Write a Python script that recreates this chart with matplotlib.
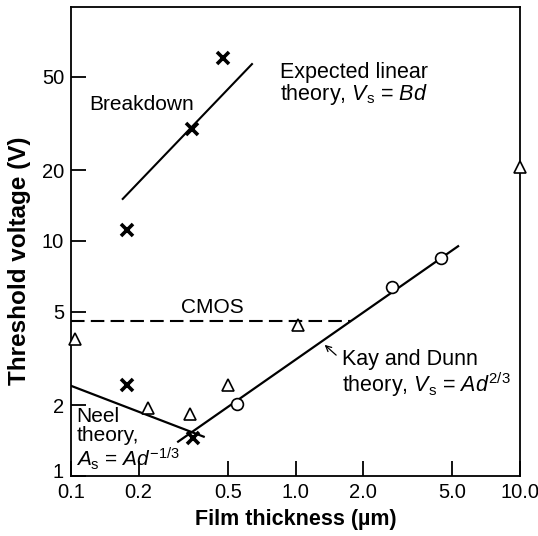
import matplotlib
matplotlib.use('Agg')
import matplotlib.pyplot as plt
import matplotlib.transforms as mtrans

plt.rcParams['font.family'] = ['Liberation Sans', 'DejaVu Sans']
plt.rcParams['mathtext.fontset'] = 'custom'
plt.rcParams['mathtext.rm'] = 'Liberation Sans'
plt.rcParams['mathtext.it'] = 'Liberation Sans:italic'

# datos
cruz_x = [0.177, 0.345, 0.474, 0.177, 0.35]
cruz_y = [11.1, 30.0, 60.0, 2.44, 1.45]

tri_x = [0.104, 0.22, 0.338, 0.499, 1.03, 10.0]
tri_y = [3.83, 1.95, 1.84, 2.44, 4.39, 20.6]

circ_x = [0.547, 2.70, 4.45]
circ_y = [2.02, 6.37, 8.47]

# lineas teoricas (extremos)
breakdown_x = [0.17, 0.64]
breakdown_y = [15.1, 56.6]
neel_x = [0.1, 0.39]
neel_y = [2.42, 1.47]
kay_x = [0.30, 5.3]
kay_y = [1.40, 9.5]
cmos_x = [0.1, 1.77]
cmos_y = [4.57, 4.57]

xticks = [0.1, 0.2, 0.5, 1.0, 2.0, 5.0, 10.0]
xlabels = ['0.1', '0.2', '0.5', '1.0', '2.0', '5.0', '10.0']
yticks = [1, 2, 5, 10, 20, 50]
ylabels = ['1', '2', '5', '10', '20', '50']

fig = plt.figure(figsize=(5.38, 5.36), dpi=100)
ax = fig.add_axes([71/538, 60/536, 449/538, 469/536])
ax.set_xscale('log')
ax.set_yscale('log')
ax.set_xlim(0.1, 10)
ax.set_ylim(1, 99)

ax.plot(breakdown_x, breakdown_y, color='black', lw=1.5)
ax.plot(neel_x, neel_y, color='black', lw=1.6)
ax.plot(kay_x, kay_y, color='black', lw=1.6)
ax.plot(cmos_x, cmos_y, color='black', lw=1.5, dashes=(6.5, 3))

ax.plot(cruz_x, cruz_y, ls='none', marker='x', ms=9, mew=2.6, color='black')
ax.plot(tri_x, tri_y, ls='none', marker='^', ms=9, mew=1.2, mfc='white', mec='black', clip_on=False, zorder=5)
ax.plot(circ_x, circ_y, ls='none', marker='o', ms=8.5, mew=1.2, mfc='white', mec='black', zorder=5)

ax.set_xticks(xticks)
ax.set_xticklabels(xlabels)
ax.set_yticks(yticks)
ax.set_yticklabels(ylabels)
ax.minorticks_off()
ax.tick_params(direction='in', length=11, width=1.3, labelsize=14.5, pad=5)
for s in ax.spines.values():
    s.set_linewidth(1.3)

# subir un poco la etiqueta "1" para que no choque con "0.1"
lab1 = ax.get_yticklabels()[0]
lab1.set_transform(lab1.get_transform() + mtrans.ScaledTranslation(0, 4/72, fig.dpi_scale_trans))

ax.set_xlabel('Film thickness (\u00b5m)', fontsize=15.5, fontweight='bold', labelpad=5)
ax.set_ylabel('Threshold voltage (V)', fontsize=17.5, fontweight='bold')
ax.yaxis.set_label_coords(-0.089, 0.46)

# textos
ax.text(0.04, 0.793, 'Breakdown', transform=ax.transAxes, fontsize=15, va='center', ha='left')
ax.text(0.465, 0.834, 'Expected linear\ntheory, $V_{\\rm s}$ = $Bd$', transform=ax.transAxes,
        fontsize=15.5, va='center', ha='left', linespacing=0.95)
ax.text(0.245, 0.36, 'CMOS', transform=ax.transAxes, fontsize=15, va='center', ha='left')
ax.text(0.603, 0.2175, 'Kay and Dunn\ntheory, $V_{\\rm s}$ = $Ad^{2/3}$', transform=ax.transAxes,
        fontsize=15.5, va='center', ha='left', linespacing=1.0)
ax.text(0.012, 0.078, 'Neel\ntheory,\n$A_{\\rm s}$ = $Ad^{-1/3}$', transform=ax.transAxes,
        fontsize=15, va='center', ha='left', linespacing=1.0)
ax.annotate('', xy=(1.32, 3.68), xytext=(1.55, 3.21),
            arrowprops=dict(arrowstyle='->', color='black', lw=0.9))

plt.savefig('out.png', dpi=100)
